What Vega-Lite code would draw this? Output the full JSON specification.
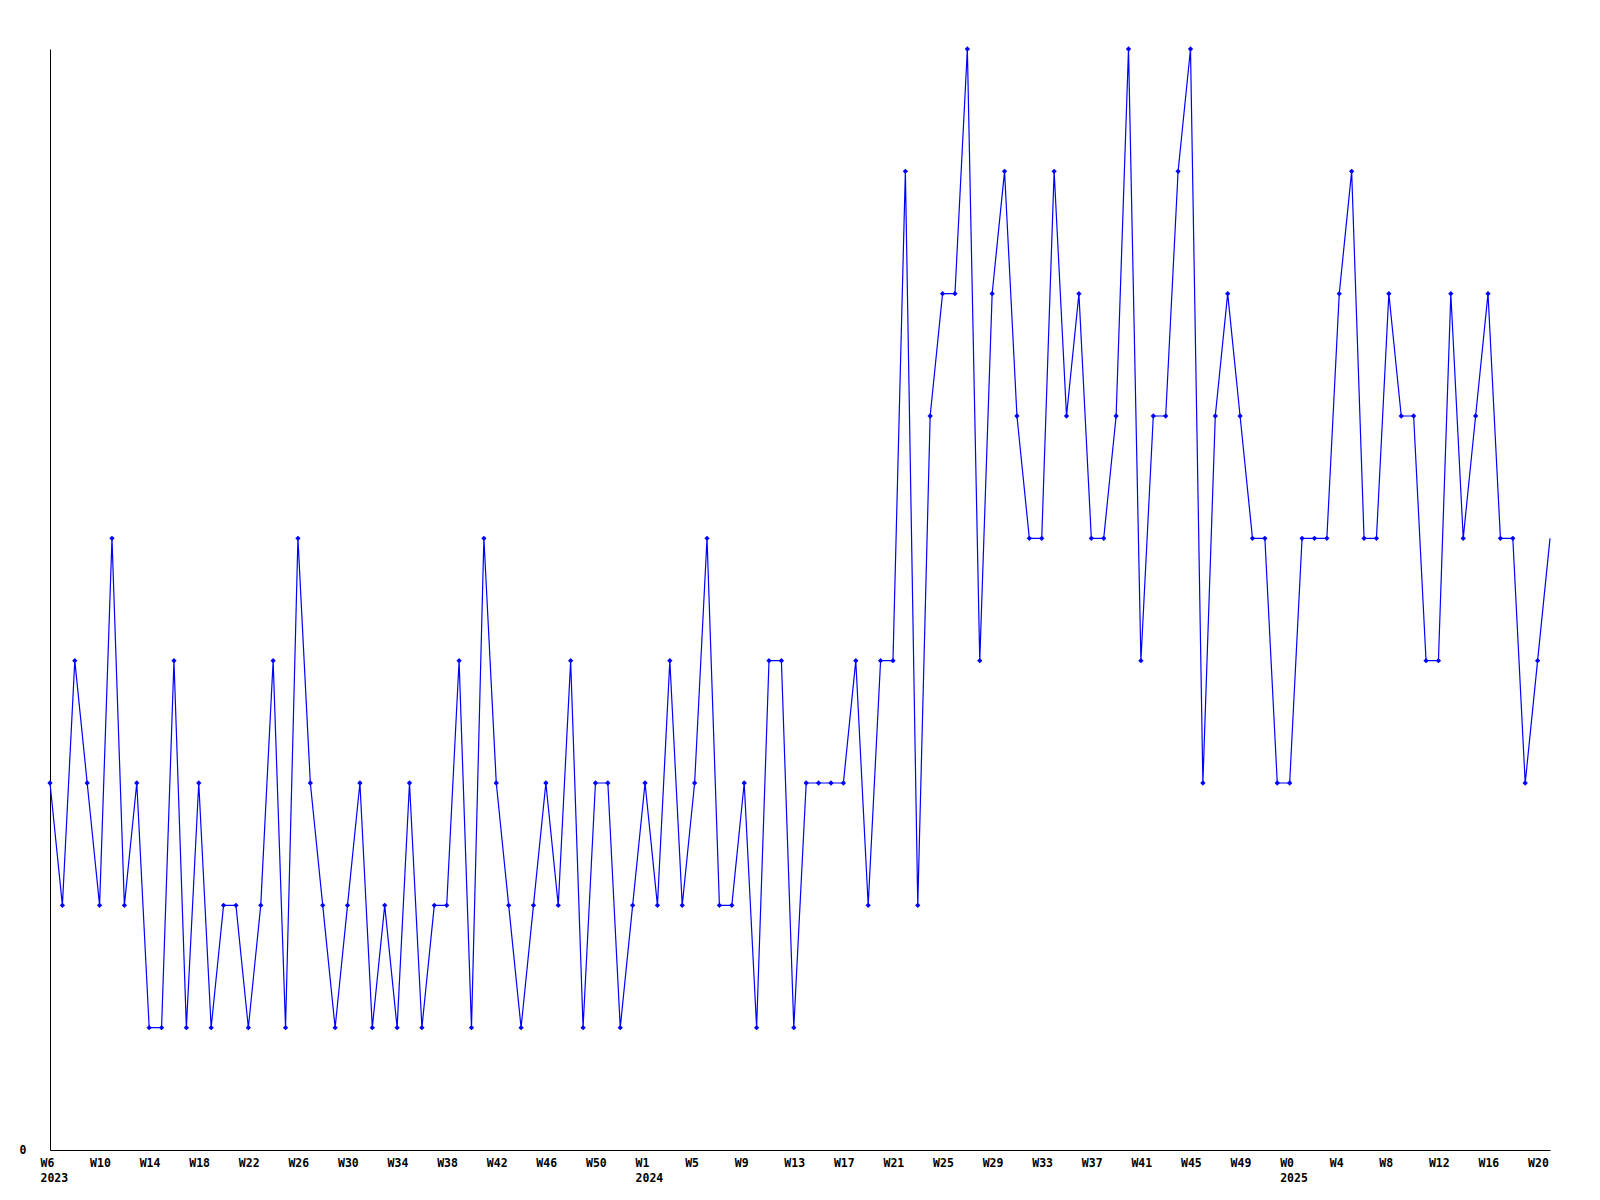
{
  "$schema": "https://vega.github.io/schema/vega-lite/v6.json",
  "width": 1500,
  "height": 1101,
  "autosize": {"type": "none"},
  "padding": {"left": 50, "top": 49, "right": 50, "bottom": 50},
  "background": "white",
  "config": {
    "view": {"stroke": null},
    "axis": {"labelFont": "DejaVu Sans Mono", "labelFontWeight": "bold", "labelFontSize": 11.5, "labelColor": "black", "domainColor": "black", "domainWidth": 1, "grid": false, "ticks": false, "title": null}
  },
  "data": {"values": [
    {"week": "2023-W06", "count": 3}, {"week": "2023-W07", "count": 2}, {"week": "2023-W08", "count": 4}, {"week": "2023-W09", "count": 3},
    {"week": "2023-W10", "count": 2}, {"week": "2023-W11", "count": 5}, {"week": "2023-W12", "count": 2}, {"week": "2023-W13", "count": 3},
    {"week": "2023-W14", "count": 1}, {"week": "2023-W15", "count": 1}, {"week": "2023-W16", "count": 4}, {"week": "2023-W17", "count": 1},
    {"week": "2023-W18", "count": 3}, {"week": "2023-W19", "count": 1}, {"week": "2023-W20", "count": 2}, {"week": "2023-W21", "count": 2},
    {"week": "2023-W22", "count": 1}, {"week": "2023-W23", "count": 2}, {"week": "2023-W24", "count": 4}, {"week": "2023-W25", "count": 1},
    {"week": "2023-W26", "count": 5}, {"week": "2023-W27", "count": 3}, {"week": "2023-W28", "count": 2}, {"week": "2023-W29", "count": 1},
    {"week": "2023-W30", "count": 2}, {"week": "2023-W31", "count": 3}, {"week": "2023-W32", "count": 1}, {"week": "2023-W33", "count": 2},
    {"week": "2023-W34", "count": 1}, {"week": "2023-W35", "count": 3}, {"week": "2023-W36", "count": 1}, {"week": "2023-W37", "count": 2},
    {"week": "2023-W38", "count": 2}, {"week": "2023-W39", "count": 4}, {"week": "2023-W40", "count": 1}, {"week": "2023-W41", "count": 5},
    {"week": "2023-W42", "count": 3}, {"week": "2023-W43", "count": 2}, {"week": "2023-W44", "count": 1}, {"week": "2023-W45", "count": 2},
    {"week": "2023-W46", "count": 3}, {"week": "2023-W47", "count": 2}, {"week": "2023-W48", "count": 4}, {"week": "2023-W49", "count": 1},
    {"week": "2023-W50", "count": 3}, {"week": "2023-W51", "count": 3}, {"week": "2023-W52", "count": 1}, {"week": "2023-W53", "count": 2},
    {"week": "2024-W01", "count": 3}, {"week": "2024-W02", "count": 2}, {"week": "2024-W03", "count": 4}, {"week": "2024-W04", "count": 2},
    {"week": "2024-W05", "count": 3}, {"week": "2024-W06", "count": 5}, {"week": "2024-W07", "count": 2}, {"week": "2024-W08", "count": 2},
    {"week": "2024-W09", "count": 3}, {"week": "2024-W10", "count": 1}, {"week": "2024-W11", "count": 4}, {"week": "2024-W12", "count": 4},
    {"week": "2024-W13", "count": 1}, {"week": "2024-W14", "count": 3}, {"week": "2024-W15", "count": 3}, {"week": "2024-W16", "count": 3},
    {"week": "2024-W17", "count": 3}, {"week": "2024-W18", "count": 4}, {"week": "2024-W19", "count": 2}, {"week": "2024-W20", "count": 4},
    {"week": "2024-W21", "count": 4}, {"week": "2024-W22", "count": 8}, {"week": "2024-W23", "count": 2}, {"week": "2024-W24", "count": 6},
    {"week": "2024-W25", "count": 7}, {"week": "2024-W26", "count": 7}, {"week": "2024-W27", "count": 9}, {"week": "2024-W28", "count": 4},
    {"week": "2024-W29", "count": 7}, {"week": "2024-W30", "count": 8}, {"week": "2024-W31", "count": 6}, {"week": "2024-W32", "count": 5},
    {"week": "2024-W33", "count": 5}, {"week": "2024-W34", "count": 8}, {"week": "2024-W35", "count": 6}, {"week": "2024-W36", "count": 7},
    {"week": "2024-W37", "count": 5}, {"week": "2024-W38", "count": 5}, {"week": "2024-W39", "count": 6}, {"week": "2024-W40", "count": 9},
    {"week": "2024-W41", "count": 4}, {"week": "2024-W42", "count": 6}, {"week": "2024-W43", "count": 6}, {"week": "2024-W44", "count": 8},
    {"week": "2024-W45", "count": 9}, {"week": "2024-W46", "count": 3}, {"week": "2024-W47", "count": 6}, {"week": "2024-W48", "count": 7},
    {"week": "2024-W49", "count": 6}, {"week": "2024-W50", "count": 5}, {"week": "2024-W51", "count": 5}, {"week": "2024-W52", "count": 3},
    {"week": "2025-W00", "count": 3}, {"week": "2025-W01", "count": 5}, {"week": "2025-W02", "count": 5}, {"week": "2025-W03", "count": 5},
    {"week": "2025-W04", "count": 7}, {"week": "2025-W05", "count": 8}, {"week": "2025-W06", "count": 5}, {"week": "2025-W07", "count": 5},
    {"week": "2025-W08", "count": 7}, {"week": "2025-W09", "count": 6}, {"week": "2025-W10", "count": 6}, {"week": "2025-W11", "count": 4},
    {"week": "2025-W12", "count": 4}, {"week": "2025-W13", "count": 7}, {"week": "2025-W14", "count": 5}, {"week": "2025-W15", "count": 6},
    {"week": "2025-W16", "count": 7}, {"week": "2025-W17", "count": 5}, {"week": "2025-W18", "count": 5}, {"week": "2025-W19", "count": 3},
    {"week": "2025-W20", "count": 4}, {"week": "2025-W21", "count": 5}
  ]},
  "encoding": {
    "x": {
      "field": "week", "type": "ordinal", "sort": null,
      "scale": {"type": "point", "padding": 0},
      "axis": {
        "labelAngle": 0,
        "labelAlign": "left",
        "labelBaseline": "top",
        "labelOffset": -10,
        "labelPadding": 7,
        "labelLineHeight": 15,
        "labelOverlap": false,
        "values": ["2023-W06", "2023-W10", "2023-W14", "2023-W18", "2023-W22", "2023-W26", "2023-W30", "2023-W34", "2023-W38", "2023-W42", "2023-W46", "2023-W50", "2024-W01", "2024-W05", "2024-W09", "2024-W13", "2024-W17", "2024-W21", "2024-W25", "2024-W29", "2024-W33", "2024-W37", "2024-W41", "2024-W45", "2024-W49", "2025-W00", "2025-W04", "2025-W08", "2025-W12", "2025-W16", "2025-W20"],
        "labelExpr": "['W' + toNumber(slice(datum.value, 6)), indexof(['2023-W06', '2024-W01', '2025-W00'], datum.value) >= 0 ? slice(datum.value, 0, 4) : '']"
      }
    },
    "y": {
      "field": "count", "type": "quantitative",
      "scale": {"domain": [0, 9], "nice": false, "zero": true},
      "axis": {"values": [0], "labelPadding": 24}
    }
  },
  "layer": [
    {"mark": {"type": "line", "color": "#0000ff", "strokeWidth": 1.2}},
    {
      "transform": [{"filter": "datum.week != '2025-W21'"}],
      "mark": {"type": "point", "shape": "diamond", "size": 28, "filled": true, "color": "#0000ff", "opacity": 1}
    }
  ]
}
